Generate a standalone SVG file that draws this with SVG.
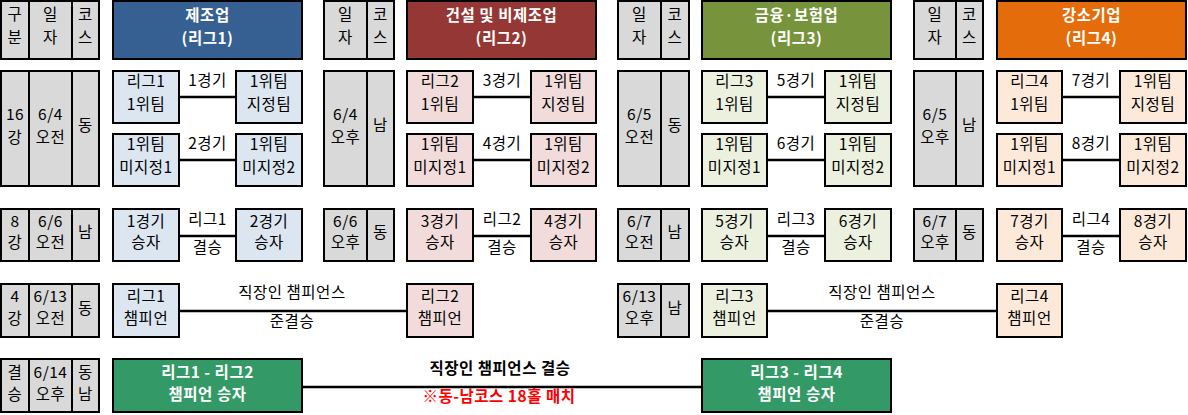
<svg xmlns="http://www.w3.org/2000/svg" width="1188" height="415" viewBox="0 0 1188 415">
<style>
text{font-family:"Noto Sans CJK KR","Malgun Gothic",sans-serif;font-size:15.5px;letter-spacing:0.5px;text-anchor:middle;fill:#000}
.b{stroke:#000;stroke-width:2}
.g{fill:#D9D9D9}
.h text,.fin text{fill:#fff;font-weight:bold}
.l1{fill:#DCE6F1}.l2{fill:#F2DCDB}.l3{fill:#EBF1DE}.l4{fill:#FDE9D9}
.fin rect{fill:#339966}
#connectors line{stroke:#000;stroke-width:2.6}
.bold{font-weight:bold}
.red{fill:#FF0000;font-weight:bold}
</style>
<rect width="1188" height="415" fill="#fff"/>
<!-- grid: header row -->
<g id="grid-head-1">
<rect class="b g" x="1" y="1" width="28" height="58"/><rect class="b g" x="29" y="1" width="43" height="58"/><rect class="b g" x="72" y="1" width="27" height="58"/>
<text x="15" y="20">구</text><text x="15" y="43">분</text>
<text x="50.5" y="20">일</text><text x="50.5" y="43">자</text>
<text x="85.5" y="20">코</text><text x="85.5" y="43">스</text>
</g>
<g id="grid-head-2">
<rect class="b g" x="324" y="1" width="43" height="58"/><rect class="b g" x="367" y="1" width="27" height="58"/>
<text x="345.5" y="20">일</text><text x="345.5" y="43">자</text>
<text x="380.5" y="20">코</text><text x="380.5" y="43">스</text>
</g>
<g id="grid-head-3">
<rect class="b g" x="618" y="1" width="43" height="58"/><rect class="b g" x="661" y="1" width="28" height="58"/>
<text x="639.5" y="20">일</text><text x="639.5" y="43">자</text>
<text x="675" y="20">코</text><text x="675" y="43">스</text>
</g>
<g id="grid-head-4">
<rect class="b g" x="914" y="1" width="42" height="58"/><rect class="b g" x="956" y="1" width="27" height="58"/>
<text x="935" y="20">일</text><text x="935" y="43">자</text>
<text x="969.5" y="20">코</text><text x="969.5" y="43">스</text>
</g>
<!-- headers -->
<g id="hdr1" class="h"><rect class="b" fill="#366092" x="113" y="1" width="189" height="58"/><text x="207.5" y="21">제조업</text><text x="207.5" y="44">(리그1)</text></g>
<g id="hdr2" class="h"><rect class="b" fill="#953735" x="407" y="1" width="189" height="58"/><text x="501.5" y="21">건설 및 비제조업</text><text x="501.5" y="44">(리그2)</text></g>
<g id="hdr3" class="h"><rect class="b" fill="#77933C" x="702" y="1" width="189" height="58"/><text x="796.5" y="21">금융·보험업</text><text x="796.5" y="44">(리그3)</text></g>
<g id="hdr4" class="h"><rect class="b" fill="#E46C0A" x="997" y="1" width="189" height="58"/><text x="1091.5" y="21">강소기업</text><text x="1091.5" y="44">(리그4)</text></g>
<!-- 16강 grid -->
<g id="grid-16-1">
<rect class="b g" x="1" y="71" width="28" height="115"/><rect class="b g" x="29" y="71" width="43" height="115"/><rect class="b g" x="72" y="71" width="27" height="115"/>
<text x="15" y="120">16</text><text x="15" y="143">강</text>
<text x="50.5" y="120">6/4</text><text x="50.5" y="143">오전</text>
<text x="85.5" y="131">동</text>
</g>
<g id="grid-16-2">
<rect class="b g" x="324" y="71" width="43" height="115"/><rect class="b g" x="367" y="71" width="27" height="115"/>
<text x="345.5" y="120">6/4</text><text x="345.5" y="143">오후</text><text x="380.5" y="131">남</text>
</g>
<g id="grid-16-3">
<rect class="b g" x="618" y="71" width="43" height="115"/><rect class="b g" x="661" y="71" width="28" height="115"/>
<text x="639.5" y="120">6/5</text><text x="639.5" y="143">오전</text><text x="675" y="131">동</text>
</g>
<g id="grid-16-4">
<rect class="b g" x="914" y="71" width="42" height="115"/><rect class="b g" x="956" y="71" width="27" height="115"/>
<text x="935" y="120">6/5</text><text x="935" y="143">오후</text><text x="969.5" y="131">남</text>
</g>
<!-- 8강 grid -->
<g id="grid-8-1">
<rect class="b g" x="1" y="209" width="28" height="52"/><rect class="b g" x="29" y="209" width="43" height="52"/><rect class="b g" x="72" y="209" width="27" height="52"/>
<text x="15" y="227">8</text><text x="15" y="248">강</text>
<text x="50.5" y="227">6/6</text><text x="50.5" y="248">오전</text>
<text x="85.5" y="238">남</text>
</g>
<g id="grid-8-2">
<rect class="b g" x="324" y="209" width="43" height="52"/><rect class="b g" x="367" y="209" width="27" height="52"/>
<text x="345.5" y="227">6/6</text><text x="345.5" y="248">오후</text><text x="380.5" y="238">동</text>
</g>
<g id="grid-8-3">
<rect class="b g" x="618" y="209" width="43" height="52"/><rect class="b g" x="661" y="209" width="28" height="52"/>
<text x="639.5" y="227">6/7</text><text x="639.5" y="248">오전</text><text x="675" y="238">남</text>
</g>
<g id="grid-8-4">
<rect class="b g" x="914" y="209" width="42" height="52"/><rect class="b g" x="956" y="209" width="27" height="52"/>
<text x="935" y="227">6/7</text><text x="935" y="248">오후</text><text x="969.5" y="238">동</text>
</g>
<!-- 4강 grid -->
<g id="grid-4-1">
<rect class="b g" x="1" y="284" width="28" height="53"/><rect class="b g" x="29" y="284" width="43" height="53"/><rect class="b g" x="72" y="284" width="27" height="53"/>
<text x="15" y="302">4</text><text x="15" y="324">강</text>
<text x="50.5" y="302">6/13</text><text x="50.5" y="324">오전</text>
<text x="85.5" y="314">동</text>
</g>
<g id="grid-4-3">
<rect class="b g" x="618" y="284" width="43" height="53"/><rect class="b g" x="661" y="284" width="28" height="53"/>
<text x="639.5" y="302">6/13</text><text x="639.5" y="324">오후</text><text x="675" y="314">남</text>
</g>
<!-- final grid -->
<g id="grid-final">
<rect class="b g" x="1" y="359" width="28" height="53"/><rect class="b g" x="29" y="359" width="43" height="53"/><rect class="b g" x="72" y="359" width="27" height="53"/>
<text x="15" y="378">결</text><text x="15" y="400">승</text>
<text x="50.5" y="378">6/14</text><text x="50.5" y="400">오후</text>
<text x="85.5" y="378">동</text><text x="85.5" y="400">남</text>
</g>
<!-- connectors -->
<g id="connectors">
<line x1="180" y1="97" x2="235" y2="97"/><line x1="180" y1="160" x2="235" y2="160"/>
<line x1="474" y1="97" x2="530" y2="97"/><line x1="474" y1="160" x2="530" y2="160"/>
<line x1="768" y1="97" x2="824" y2="97"/><line x1="768" y1="160" x2="824" y2="160"/>
<line x1="1063" y1="97" x2="1119" y2="97"/><line x1="1063" y1="160" x2="1119" y2="160"/>
<line x1="180" y1="236" x2="235" y2="236"/><line x1="474" y1="236" x2="530" y2="236"/>
<line x1="768" y1="236" x2="824" y2="236"/><line x1="1063" y1="236" x2="1119" y2="236"/>
<line x1="180" y1="311" x2="406" y2="311"/><line x1="768" y1="311" x2="996" y2="311"/>
<line x1="303" y1="387" x2="701" y2="387"/>
<text x="207.5" y="86">1경기</text><text x="207.5" y="149">2경기</text>
<text x="502" y="86">3경기</text><text x="502" y="149">4경기</text>
<text x="796" y="86">5경기</text><text x="796" y="149">6경기</text>
<text x="1091" y="86">7경기</text><text x="1091" y="149">8경기</text>
<text x="207.5" y="225">리그1</text><text x="207.5" y="253">결승</text>
<text x="502" y="225">리그2</text><text x="502" y="253">결승</text>
<text x="796" y="225">리그3</text><text x="796" y="253">결승</text>
<text x="1091" y="225">리그4</text><text x="1091" y="253">결승</text>
<text x="292" y="298">직장인 챔피언스</text><text x="292" y="327">준결승</text>
<text x="882" y="298">직장인 챔피언스</text><text x="882" y="327">준결승</text>
<text class="bold" x="500" y="374">직장인 챔피언스 결승</text>
<text class="red" x="499" y="402">※동-남코스 18홀 매치</text>
</g>
<!-- 16강 nodes -->
<g id="n1a"><rect class="b l1" x="113" y="71" width="66" height="52"/><text x="146" y="87">리그1</text><text x="146" y="110">1위팀</text></g>
<g id="n1b"><rect class="b l1" x="236" y="71" width="66" height="52"/><text x="269" y="87">1위팀</text><text x="269" y="110">지정팀</text></g>
<g id="n1c"><rect class="b l1" x="113" y="134" width="66" height="52"/><text x="146" y="150">1위팀</text><text x="146" y="173">미지정1</text></g>
<g id="n1d"><rect class="b l1" x="236" y="134" width="66" height="52"/><text x="269" y="150">1위팀</text><text x="269" y="173">미지정2</text></g>
<g id="n2a"><rect class="b l2" x="407" y="71" width="66" height="52"/><text x="440" y="87">리그2</text><text x="440" y="110">1위팀</text></g>
<g id="n2b"><rect class="b l2" x="531" y="71" width="65" height="52"/><text x="563.5" y="87">1위팀</text><text x="563.5" y="110">지정팀</text></g>
<g id="n2c"><rect class="b l2" x="407" y="134" width="66" height="52"/><text x="440" y="150">1위팀</text><text x="440" y="173">미지정1</text></g>
<g id="n2d"><rect class="b l2" x="531" y="134" width="65" height="52"/><text x="563.5" y="150">1위팀</text><text x="563.5" y="173">미지정2</text></g>
<g id="n3a"><rect class="b l3" x="702" y="71" width="65" height="52"/><text x="734.5" y="87">리그3</text><text x="734.5" y="110">1위팀</text></g>
<g id="n3b"><rect class="b l3" x="825" y="71" width="66" height="52"/><text x="858" y="87">1위팀</text><text x="858" y="110">지정팀</text></g>
<g id="n3c"><rect class="b l3" x="702" y="134" width="65" height="52"/><text x="734.5" y="150">1위팀</text><text x="734.5" y="173">미지정1</text></g>
<g id="n3d"><rect class="b l3" x="825" y="134" width="66" height="52"/><text x="858" y="150">1위팀</text><text x="858" y="173">미지정2</text></g>
<g id="n4a"><rect class="b l4" x="997" y="71" width="65" height="52"/><text x="1029.5" y="87">리그4</text><text x="1029.5" y="110">1위팀</text></g>
<g id="n4b"><rect class="b l4" x="1120" y="71" width="66" height="52"/><text x="1153" y="87">1위팀</text><text x="1153" y="110">지정팀</text></g>
<g id="n4c"><rect class="b l4" x="997" y="134" width="65" height="52"/><text x="1029.5" y="150">1위팀</text><text x="1029.5" y="173">미지정1</text></g>
<g id="n4d"><rect class="b l4" x="1120" y="134" width="66" height="52"/><text x="1153" y="150">1위팀</text><text x="1153" y="173">미지정2</text></g>
<!-- 8강 nodes -->
<g id="q1a"><rect class="b l1" x="113" y="209" width="66" height="52"/><text x="146" y="227">1경기</text><text x="146" y="248">승자</text></g>
<g id="q1b"><rect class="b l1" x="236" y="209" width="66" height="52"/><text x="269" y="227">2경기</text><text x="269" y="248">승자</text></g>
<g id="q2a"><rect class="b l2" x="407" y="209" width="66" height="52"/><text x="440" y="227">3경기</text><text x="440" y="248">승자</text></g>
<g id="q2b"><rect class="b l2" x="531" y="209" width="65" height="52"/><text x="563.5" y="227">4경기</text><text x="563.5" y="248">승자</text></g>
<g id="q3a"><rect class="b l3" x="702" y="209" width="65" height="52"/><text x="734.5" y="227">5경기</text><text x="734.5" y="248">승자</text></g>
<g id="q3b"><rect class="b l3" x="825" y="209" width="66" height="52"/><text x="858" y="227">6경기</text><text x="858" y="248">승자</text></g>
<g id="q4a"><rect class="b l4" x="997" y="209" width="65" height="52"/><text x="1029.5" y="227">7경기</text><text x="1029.5" y="248">승자</text></g>
<g id="q4b"><rect class="b l4" x="1120" y="209" width="66" height="52"/><text x="1153" y="227">8경기</text><text x="1153" y="248">승자</text></g>
<!-- 4강 nodes -->
<g id="s1"><rect class="b l1" x="113" y="284" width="66" height="53"/><text x="146" y="302">리그1</text><text x="146" y="324">챔피언</text></g>
<g id="s2"><rect class="b l2" x="407" y="284" width="66" height="53"/><text x="440" y="302">리그2</text><text x="440" y="324">챔피언</text></g>
<g id="s3"><rect class="b l3" x="702" y="284" width="65" height="53"/><text x="734.5" y="302">리그3</text><text x="734.5" y="324">챔피언</text></g>
<g id="s4"><rect class="b l4" x="997" y="284" width="65" height="53"/><text x="1029.5" y="302">리그4</text><text x="1029.5" y="324">챔피언</text></g>
<!-- final nodes -->
<g id="f1" class="fin"><rect class="b" x="113" y="359" width="189" height="53"/><text x="207.5" y="378">리그1 - 리그2</text><text x="207.5" y="400">챔피언 승자</text></g>
<g id="f2" class="fin"><rect class="b" x="702" y="359" width="189" height="53"/><text x="796.5" y="378">리그3 - 리그4</text><text x="796.5" y="400">챔피언 승자</text></g>
</svg>
